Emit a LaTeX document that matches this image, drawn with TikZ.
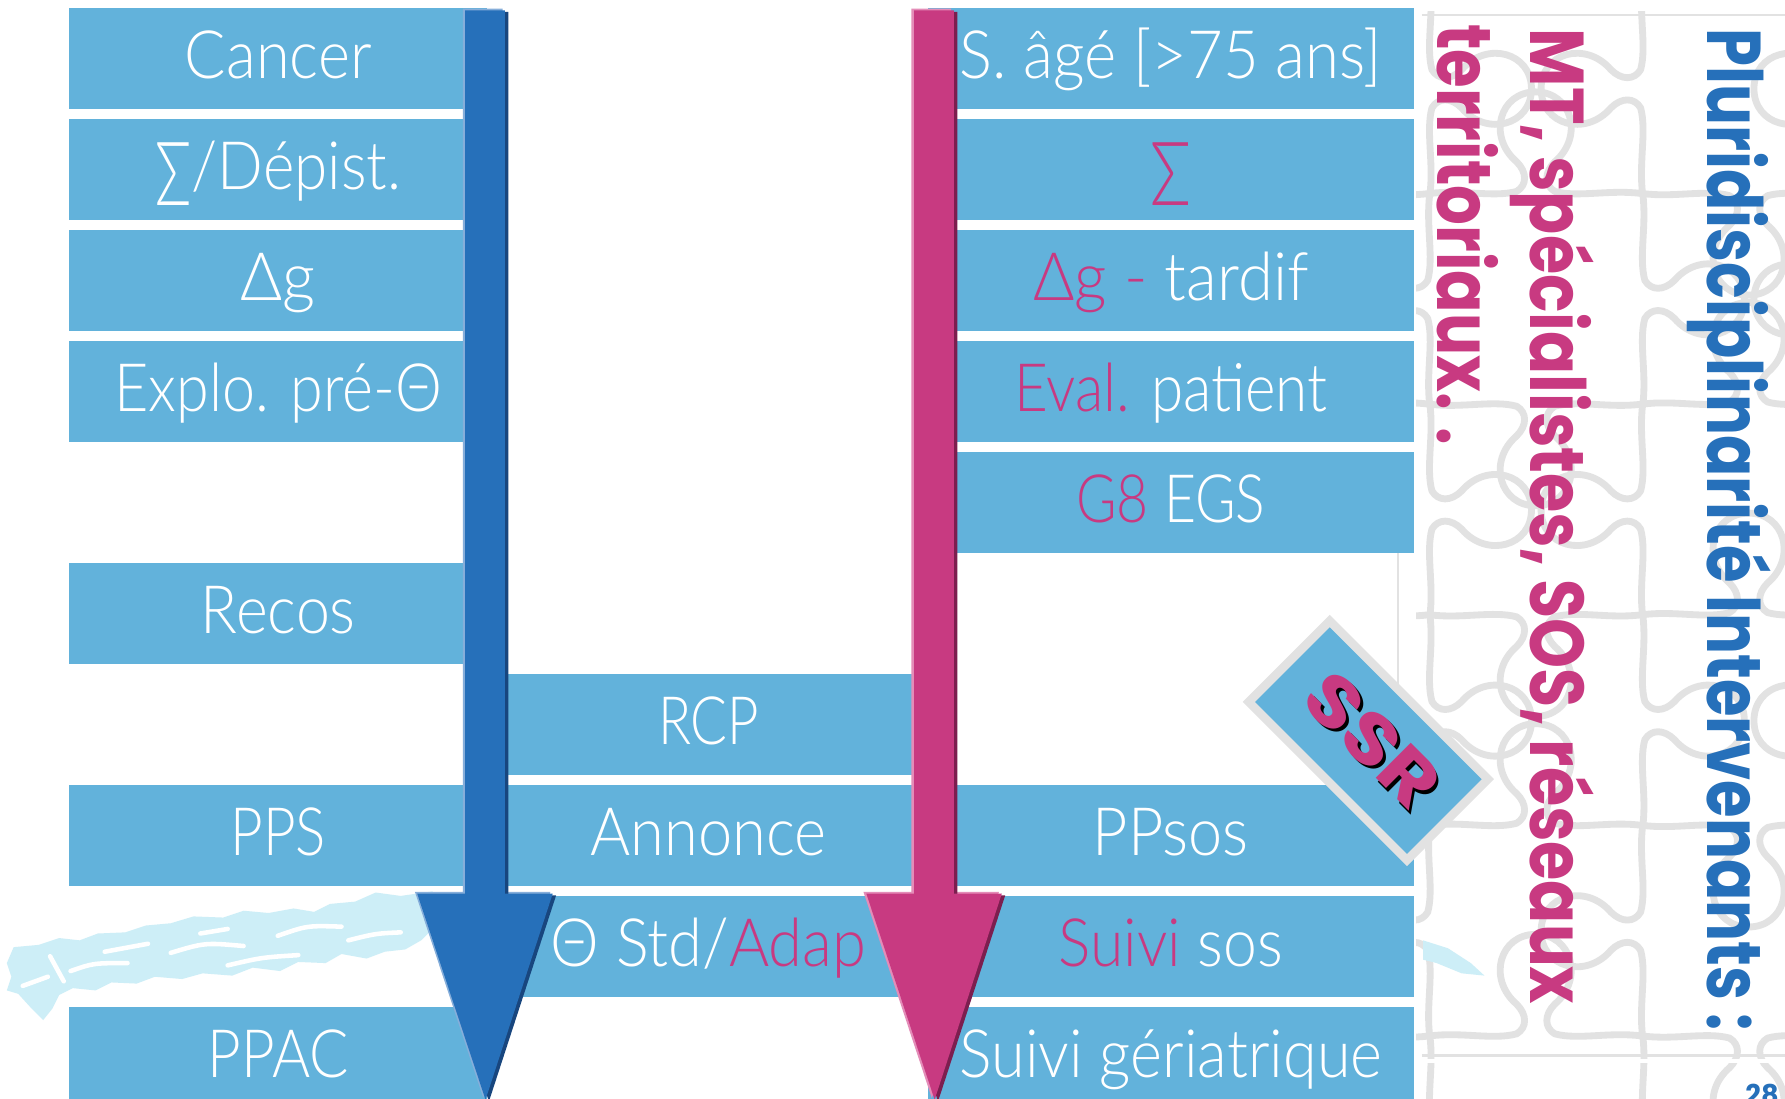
\documentclass[tikz,border=0pt]{standalone}
\usepackage{fontspec}
\usepackage{graphicx}
\IfFontExistsTF{Lato Light}{\newfontfamily\boxfont{Lato Light}}{\newfontfamily\boxfont{Lato}}
\newfontfamily\headfont{Poppins}
\definecolor{boxblue}{HTML}{62B2DB}
\definecolor{arrblue}{HTML}{2670BA}
\definecolor{arrbluedk}{HTML}{18467E}
\definecolor{arrbluelt}{HTML}{86AEDA}
\definecolor{arrpink}{HTML}{C83A81}
\definecolor{arrpinkdk}{HTML}{7C1E4F}
\definecolor{arrpinklt}{HTML}{E48CB8}
\definecolor{txtpink}{HTML}{C83A81}
\definecolor{puzgray}{HTML}{E2E2E2}
\definecolor{splash}{HTML}{CDEEF7}
\definecolor{ssrgray}{HTML}{E2E2E2}
\newsavebox\fitbox
\newcommand\fitw[2]{\sbox\fitbox{#2}\pgfmathsetmacro\fitsx{#1/\the\wd\fitbox}\scalebox{\fitsx}[1]{\usebox\fitbox}}
\newcommand\sumsym{\raisebox{-14pt}{\scalebox{1}[1.33]{Σ}}}
\newcommand\arrowshape[2]{(#1-17.5,#2) -- (#1+17.5,#2) -- (#1+17.5,785) -- (#1+59.5,785) -- (#1+0.5,966) -- (#1-59.5,785) -- (#1-17.5,785) -- cycle}
\newcommand\jig[4]{\begin{scope}[shift={(#1,#2)},rotate=#3,xscale=186,yscale=#4*186]
\draw[puzline] (0,0) .. controls (0.15,0.02) and (0.30,-0.02) .. (0.41,0.01) .. controls (0.46,0.04) and (0.46,0.10) .. (0.41,0.15) .. controls (0.27,0.27) and (0.33,0.48) .. (0.5,0.48) .. controls (0.67,0.48) and (0.73,0.27) .. (0.59,0.15) .. controls (0.54,0.10) and (0.54,0.04) .. (0.59,0.01) .. controls (0.70,-0.02) and (0.85,0.02) .. (1,0);
\end{scope}}
\begin{document}
\begin{tikzpicture}[x=1pt,y=-1pt,
  lbl/.style={inner sep=0pt, minimum height=89pt, text height=45pt, text depth=10pt, fill=boxblue, text=white, font=\boxfont\fontsize{58.6}{64}\selectfont},
  colL/.style={lbl, minimum width=367pt},
  colM/.style={lbl, minimum width=395pt},
  colR/.style={lbl, minimum width=427pt},
  vtext/.style={inner sep=0pt, rotate=-90, anchor=base west, font=\headfont\bfseries\fontsize{67}{70}\selectfont},
  ssrfont/.style={inner sep=0pt, rotate=-45, font=\headfont\bfseries\fontsize{62}{64}\selectfont},
  puzline/.style={draw=puzgray, line width=6pt, line cap=round, line join=round}
]
\useasboundingbox (0,0) rectangle (1568,964.6);
\fill[white] (0,0) rectangle (1568,964.6);

% puzzle background
\begin{scope}
\clip (1244,0) rectangle (1568,965);
\foreach \px/\py/\s in {1256/-15/-1,1256/170/1,1256/355/-1,1256/540/-1,1256/725/1,1256/910/-1,
  1443/-15/1,1443/170/-1,1443/355/1,1443/540/-1,1443/725/1,1443/910/-1,
  1630/-15/1,1630/170/1,1630/355/-1,1630/540/1,1630/725/-1,1630/910/1}
  {\jig{\px}{\py}{-90}{\s}}
\foreach \px/\py/\s in {1069/170/1,1256/170/-1,1443/170/1,
  1069/355/-1,1256/355/1,1443/355/-1,
  1069/540/1,1256/540/1,1443/540/-1,
  1069/725/-1,1256/725/-1,1443/725/1,
  1069/910/1,1256/910/-1,1443/910/1}
  {\jig{\px}{\py}{0}{\s}}
\end{scope}
\fill[white] (1249,0) rectangle (1568,10);
\fill[white] (1249,930) rectangle (1568,934);
\draw[puzgray, line width=2.2pt] (1249,13) -- (1568,13);
\draw[puzgray, line width=2.2pt] (1249,927) -- (1568,927);
\draw[puzgray, line width=1.2pt] (1228,486) -- (1228,690);

% splashes
\fill[splash] (380,783) -- (352,787) -- (330,784) -- (312,792) -- (290,794) -- (276,801) -- (258,798) -- (236,802) -- (214,800) -- (196,806) -- (170,805) -- (150,811) -- (128,813) -- (110,819) -- (86,820) -- (70,826) -- (52,824) -- (34,830) -- (12,832) -- (6,846) -- (10,858) -- (6,870) -- (16,873) -- (26,884) -- (38,896) -- (46,886) -- (52,874) -- (64,868) -- (84,870) -- (98,863) -- (120,864) -- (136,858) -- (160,860) -- (178,855) -- (204,857) -- (222,850) -- (246,853) -- (262,845) -- (286,846) -- (300,838) -- (322,842) -- (338,836) -- (356,834) -- (370,826) -- (384,812) -- cycle;
\begin{scope}[white, line width=4pt, line cap=round]
\draw (62,853) .. controls (82,846) .. (112,846);
\draw (150,837) .. controls (180,828) .. (214,831);
\draw (244,822) .. controls (270,813) .. (300,814);
\draw (92,836) -- (130,829);
\draw (200,848) .. controls (230,841) .. (262,839);
\draw (306,826) .. controls (330,820) .. (352,819);
\draw (20,866) -- (42,858);
\draw (44,840) -- (56,862);
\draw (176,820) -- (200,816);
\end{scope}
\fill[splash] (1250,826) -- (1272,833) -- (1292,846) -- (1304,857) -- (1284,855) -- (1262,846) -- (1250,843) -- cycle;

% left column
\node[colL] (cancer) at (244.5,51.5) {\fitw{164}{Cancer}};
\node[colL] (depist) at (244.5,149) {\fitw{216}{\sumsym/Dépist.}};
\node[colL] (dg) at (244.5,246.5) {\fitw{66}{Δg}};
\node[colL] (explo) at (244.5,344) {\fitw{288}{Explo. pré-Θ}};
\node[colL] (recos) at (244.5,539) {\fitw{136}{Recos}};
\node[colL] (pps) at (244.5,734) {\fitw{84}{PPS}};
\node[colL] (ppac) at (244.5,929) {\fitw{124}{PPAC}};
% middle column
\node[colM] (rcp) at (622.5,636.5) {\fitw{89}{RCP}};
\node[colM] (annonce) at (622.5,734) {\fitw{207}{Annonce}};
\node[colM] (std) at (622.5,831.5) {\fitw{277}{Θ Std/\textcolor{txtpink}{Adap}}};
% right column
\node[colR] (age) at (1028.5,51.5) {\fitw{371}{S. âgé [>75 ans]}};
\node[colR] (sig) at (1028.5,149) {\fitw{36}{\textcolor{txtpink}{\sumsym}}};
\node[colR] (tard) at (1028.5,246.5) {\fitw{242}{\textcolor{txtpink}{Δg -} tardif}};
\node[colR] (eval) at (1028.5,344) {\fitw{275}{\textcolor{txtpink}{Eval.} patient}};
\node[colR] (g8) at (1028.5,441.5) {\fitw{166}{\textcolor{txtpink}{G8} EGS}};
\node[colR] (ppsos) at (1028.5,734) {\fitw{137}{PPsos}};
\node[colR] (suivi) at (1028.5,831.5) {\fitw{197}{\textcolor{txtpink}{Suivi} sos}};
\node[colR] (ger) at (1028.5,929) {\fitw{371}{Suivi gériatrique}};

% arrows
\fill[arrbluelt, shift={(-2,-1.5)}] \arrowshape{426}{9};
\fill[arrbluedk, shift={(3,1.5)}] \arrowshape{426}{9};
\fill[arrblue] \arrowshape{426}{9};
\fill[arrpinklt, shift={(-2.5,-1.5)}] \arrowshape{820.5}{9};
\fill[arrpinkdk, shift={(3,1.5)}] \arrowshape{820.5}{9};
\fill[arrpink] \arrowshape{820.5}{9};

% SSR tag
\node[draw=ssrgray, line width=7.5pt, fill=boxblue, minimum width=196.5pt, minimum height=100.5pt, inner sep=0pt, rotate=-45] (ssrbox) at (1202,650.5) {};
\node[ssrfont, text=black] (ssrsh) at (1208,653) {\fitw{140}{SSR}};
\node[ssrfont, text=txtpink] (ssr) at (1205.5,650) {\fitw{140}{SSR}};

% vertical texts
\node[vtext, text=arrblue] (plur) at (1499.5,25) {\fitw{880}{Pluridisciplinarité Intervenants :}};
\node[vtext, text=txtpink] (mt) at (1344,25) {\fitw{857}{MT, spécialistes, SOS, réseaux}};
\node[vtext, text=txtpink] (terr) at (1263,21) {\fitw{370}{territoriaux. .}};
\node[anchor=base west, inner sep=0pt, text=arrblue, font=\headfont\bfseries\fontsize{24}{26}\selectfont] (page) at (1533,970) {28};
\end{tikzpicture}
\end{document}
